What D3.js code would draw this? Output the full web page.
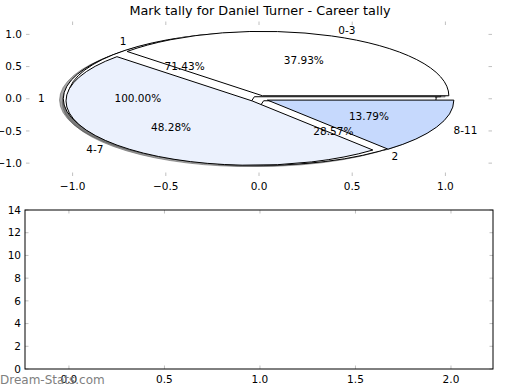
<!DOCTYPE html>
<html>
<head>
<meta charset="utf-8">
<script src="https://cdn.jsdelivr.net/npm/d3@7"></script>
<style>
	body { margin: 0; background: #fff; }
	text { font-family: "DejaVu Sans", sans-serif; }
</style>
</head>
<body>
<div id="chart"></div>
<script>
;(function() {

	var width = 520;
	var height = 390;
	var title = "Mark tally for Daniel Turner - Career tally";
	var watermark = "Dream-Stats.com";

	// outer pie - tally by mark band
	var bandLabels = ["0-3", "4-7", "8-11"];
	var bandCounts = [11, 14, 4];
	var bandColors = ["#ffffff", "#ebf1fd", "#c6d9fd"];
	var bandExplode = [0.05, 0.05, 0.05];

	// second pie
	var secondLabels = ["1", "2"];
	var secondCounts = [5, 2];
	var secondColors = ["#ffffff", "#ffffff"];
	var secondExplode = [0.04, 0.04];

	// third pie
	var thirdLabels = ["1"];
	var thirdCounts = [1];
	var thirdColors = ["#ffffff"];
	var thirdExplode = [0.05];

	var pieXTicks = [-1.0, -0.5, 0.0, 0.5, 1.0];
	var pieYTicks = [-1.0, -0.5, 0.0, 0.5, 1.0];
	var barXTicks = [0.0, 0.5, 1.0, 1.5, 2.0];
	var barYTicks = [0, 2, 4, 6, 8, 10, 12, 14];

	var pieBox = { left: 26, right: 492, top: 21.5, bottom: 176 };
	var barBox = { left: 25, right: 493, top: 210, bottom: 369 };
	var tickColor = "#c0c0c0";
	var shadowOffset = { x: -0.02, y: -0.02 };

	var svg = d3.select("#chart").append("svg")
		.attr("width", width)
		.attr("height", height);

	svg.append("text")
		.attr("x", 260)
		.attr("y", 14.5)
		.attr("text-anchor", "middle")
		.style("font-size", "12.8px")
		.text(title);

	// ---- pie axes ----
	var px = d3.scaleLinear().domain([-1.25, 1.25]).range([pieBox.left, pieBox.right]);
	var py = d3.scaleLinear().domain([-1.2, 1.2]).range([pieBox.bottom, pieBox.top]);
	var kx = px(1) - px(0);
	var ky = py(0) - py(1);

	var pies = [
		{ labels: thirdLabels, counts: thirdCounts, colors: thirdColors, explode: thirdExplode },
		{ labels: secondLabels, counts: secondCounts, colors: secondColors, explode: secondExplode },
		{ labels: bandLabels, counts: bandCounts, colors: bandColors, explode: bandExplode }
	];

	var pctFormat = d3.format(".2f");

	// angles counted counter-clockwise from east, like matplotlib
	function wedges(p) {
		var total = d3.sum(p.counts);
		return d3.pie().sort(null).value(function(d) { return d; })(p.counts)
			.map(function(a, i) {
				var tm = (a.startAngle + a.endAngle) / 2;
				var e = p.explode[i];
				return {
					t1: a.startAngle,
					t2: a.endAngle,
					tm: tm,
					cx: e * Math.cos(tm),
					cy: e * Math.sin(tm),
					color: p.colors[i],
					label: p.labels[i],
					pct: pctFormat(100 * p.counts[i] / total) + "%"
				};
			});
	}

	var allWedges = [];
	pies.forEach(function(p) { allWedges = allWedges.concat(wedges(p)); });

	var arc = d3.arc()
		.innerRadius(0)
		.outerRadius(1)
		.startAngle(function(d) { return Math.PI / 2 - d.t2; })
		.endAngle(function(d) { return Math.PI / 2 - d.t1; });

	var pieArea = svg.append("g");

	// shadows behind every wedge
	pieArea.selectAll(".shadow")
		.data(allWedges)
		.enter().append("path")
			.attr("class", "shadow")
			.attr("transform", function(d) {
				return "translate(" + px(d.cx + shadowOffset.x) + "," + py(d.cy + shadowOffset.y) + ") scale(" + kx + "," + ky + ")";
			})
			.attr("d", arc)
			.attr("fill", "rgba(77,77,77,0.5)")
			.attr("stroke", "rgba(77,77,77,0.5)")
			.attr("stroke-width", 1)
			.attr("vector-effect", "non-scaling-stroke");

	pieArea.selectAll(".wedge")
		.data(allWedges)
		.enter().append("path")
			.attr("class", "wedge")
			.attr("transform", function(d) {
				return "translate(" + px(d.cx) + "," + py(d.cy) + ") scale(" + kx + "," + ky + ")";
			})
			.attr("d", arc)
			.attr("fill", function(d) { return d.color; })
			.attr("stroke", "#000")
			.attr("stroke-width", 1)
			.attr("vector-effect", "non-scaling-stroke");

	// labels outside, percentages inside
	pieArea.selectAll(".lbl")
		.data(allWedges)
		.enter().append("text")
			.attr("class", "lbl")
			.attr("x", function(d) { return px(d.cx + 1.1 * Math.cos(d.tm)); })
			.attr("y", function(d) { return py(d.cy + 1.1 * Math.sin(d.tm)); })
			.attr("dy", "0.35em")
			.attr("text-anchor", function(d) {
				return (d.cx + 1.1 * Math.cos(d.tm)) > 0 ? "start" : "end";
			})
			.style("font-size", "10.5px")
			.text(function(d) { return d.label; });

	pieArea.selectAll(".pct")
		.data(allWedges)
		.enter().append("text")
			.attr("class", "pct")
			.attr("x", function(d) { return px(d.cx + 0.6 * Math.cos(d.tm)); })
			.attr("y", function(d) { return py(d.cy + 0.6 * Math.sin(d.tm)); })
			.attr("dy", "0.35em")
			.attr("text-anchor", "middle")
			.style("font-size", "10.5px")
			.text(function(d) { return d.pct; });

	// axes ticks, gray and pointing inwards
	function drawTicks(g, xs, ys, xTicks, yTicks, box, xFmt, yFmt) {
		var len = 3.5;
		xTicks.forEach(function(t) {
			g.append("line").attr("x1", xs(t)).attr("x2", xs(t))
				.attr("y1", box.top).attr("y2", box.top + len)
				.attr("stroke", tickColor);
			g.append("line").attr("x1", xs(t)).attr("x2", xs(t))
				.attr("y1", box.bottom).attr("y2", box.bottom - len)
				.attr("stroke", tickColor);
			g.append("text").attr("x", xs(t)).attr("y", box.bottom + 10)
				.attr("dy", "0.35em")
				.attr("text-anchor", "middle")
				.style("font-size", "10.5px")
				.text(xFmt(t));
		});
		yTicks.forEach(function(t) {
			g.append("line").attr("x1", box.left).attr("x2", box.left + len)
				.attr("y1", ys(t)).attr("y2", ys(t))
				.attr("stroke", tickColor);
			g.append("line").attr("x1", box.right).attr("x2", box.right - len)
				.attr("y1", ys(t)).attr("y2", ys(t))
				.attr("stroke", tickColor);
			g.append("text").attr("x", box.left - 4).attr("y", ys(t))
				.attr("dy", "0.35em")
				.attr("text-anchor", "end")
				.style("font-size", "10.5px")
				.text(yFmt(t));
		});
	}

	var fmt1 = function(t) { return d3.format(".1f")(t).replace("-", "\u2212"); };
	drawTicks(svg.append("g"), px, py, pieXTicks, pieYTicks, pieBox, fmt1, fmt1);

	// ---- empty lower axes ----
	var bx = d3.scaleLinear().domain([-0.23, 2.22]).range([barBox.left, barBox.right]);
	var by = d3.scaleLinear().domain([0, 14]).range([barBox.bottom, barBox.top]);

	var barArea = svg.append("g");
	drawTicks(barArea, bx, by, barXTicks, barYTicks, barBox, fmt1, d3.format("d"));

	barArea.append("rect")
		.attr("x", barBox.left)
		.attr("y", barBox.top)
		.attr("width", barBox.right - barBox.left)
		.attr("height", barBox.bottom - barBox.top)
		.attr("fill", "none")
		.attr("stroke", "#000")
		.attr("stroke-width", 1);

	svg.append("text")
		.attr("x", 0)
		.attr("y", 384)
		.style("font-size", "12px")
		.attr("fill", "#808080")
		.text(watermark);

})();
</script>
</body>
</html>
